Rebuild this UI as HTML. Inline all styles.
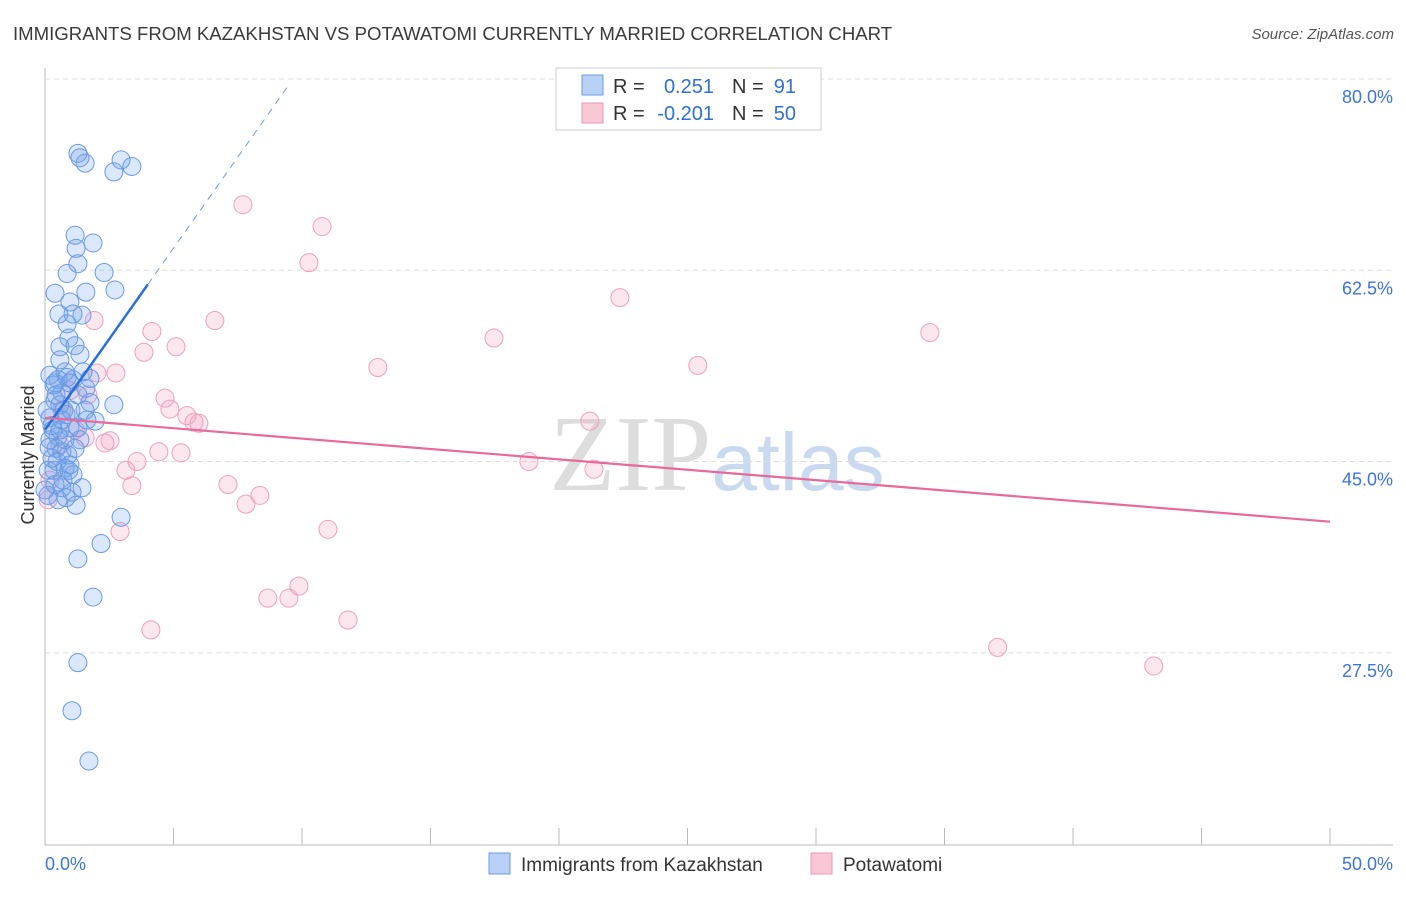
<!DOCTYPE html>
<html><head><meta charset="utf-8"><style>
body{margin:0;background:#fff;font-family:"Liberation Sans",sans-serif;}
</style></head><body>
<svg id="c" width="1406" height="892" xmlns="http://www.w3.org/2000/svg" font-family="Liberation Sans, sans-serif">
<text x="13" y="40" font-size="18.6" fill="#3a3a3a">IMMIGRANTS FROM KAZAKHSTAN VS POTAWATOMI CURRENTLY MARRIED CORRELATION CHART</text>
<text x="1394" y="39" font-size="15" fill="#555" font-style="italic" text-anchor="end">Source: ZipAtlas.com</text>
<text x="34" y="455" font-size="18" fill="#333" text-anchor="middle" transform="rotate(-90 34 455)">Currently Married</text>
<text x="717" y="490" font-size="108" fill="#ddd" text-anchor="middle" font-family="Liberation Serif, serif">ZIP<tspan fill="#c9d9f0" font-family="Liberation Sans, sans-serif" font-size="82">atlas</tspan></text>
<g id="grid"></g><g id="marks"></g><g id="lines"></g>
<g>
<rect x="556" y="68" width="265" height="62" fill="#fff" stroke="#ccc"/>
<rect x="582" y="75" width="21" height="20" fill="#b8d0f5" stroke="#6d9be0"/>
<rect x="582" y="103" width="21" height="20" fill="#f9c6d6" stroke="#e89ab4"/>
<text x="613" y="93" font-size="20" fill="#333">R =</text><text x="714" y="93" font-size="20" fill="#2f6fd6" text-anchor="end">0.251</text>
<text x="732" y="93" font-size="20" fill="#333">N =</text><text x="796" y="93" font-size="20" fill="#2f6fd6" text-anchor="end">91</text>
<text x="613" y="120" font-size="20" fill="#333">R =</text><text x="714" y="120" font-size="20" fill="#2f6fd6" text-anchor="end">-0.201</text>
<text x="732" y="120" font-size="20" fill="#333">N =</text><text x="796" y="120" font-size="20" fill="#2f6fd6" text-anchor="end">50</text>
</g>
<g>
<rect x="489" y="853" width="21" height="21" fill="#b8d0f5" stroke="#6d9be0"/>
<text x="521" y="871" font-size="19" fill="#333">Immigrants from Kazakhstan</text>
<rect x="811" y="853" width="21" height="21" fill="#f9c6d6" stroke="#e89ab4"/>
<text x="843" y="871" font-size="19" fill="#333">Potawatomi</text>
</g>
</svg>
<script>
const blueX=[1.28,1.36,1.56,2.96,2.68,3.38,1.17,1.21,1.87,1.28,2.30,0.86,0.39,1.59,2.72,0.97,0.54,1.09,1.44,0.86,0.93,0.58,1.17,1.36,0.78,0.51,1.09,1.75,0.39,0.86,0.97,0.66,1.59,2.68,0.39,0.74,0.19,1.75,1.63,1.95,0.58,0.97,0.19,0.43,0.66,1.36,1.28,0.27,0.97,0.78,0.12,0.39,0.66,1.05,1.44,0.12,2.96,2.18,1.28,1.87,1.28,1.05,1.71,0.58,0.82,0.27,0.51,1.17,0.89,0.35,0.70,1.09,0.19,1.48,0.58,0.43,0.78,0.47,1.01,0.16,1.56,0.66,0.35,1.28,0.0,0.51,0.82,0.31,0.93,1.21,0.08];
const blueY=[73.2,72.8,72.3,72.6,71.5,72.0,65.7,64.5,65.0,63.1,62.3,62.2,60.4,60.5,60.7,59.6,58.5,58.5,58.4,57.6,56.3,55.5,55.6,54.8,53.2,52.5,52.5,52.6,52.2,52.7,52.2,51.3,51.7,50.2,50.6,49.7,49.0,50.4,48.8,48.7,47.9,48.1,47.0,46.2,45.9,47.0,48.1,45.3,44.7,44.4,44.2,42.9,42.6,42.2,42.6,41.9,39.9,37.5,36.1,32.6,26.6,22.2,17.6,50.2,49.3,48.3,47.3,46.2,45.6,44.2,43.3,43.8,52.9,53.2,54.3,51.1,47.0,45.0,49.7,46.3,49.7,48.8,52.0,51.1,42.4,41.5,41.7,47.9,44.2,41.0,49.7];
const pinkX=[7.70,10.78,10.27,22.37,34.43,17.47,1.91,6.61,4.16,3.85,5.10,12.95,25.40,2.76,2.02,4.67,4.86,5.52,5.80,5.99,21.20,0.97,0.66,1.56,2.33,2.53,4.43,5.29,3.58,18.83,3.15,21.36,3.38,7.12,8.36,7.82,2.92,11.01,9.88,9.49,8.67,11.79,4.12,37.07,43.14,0.19,0.12,0.58,1.17,1.67];
const pinkY=[68.5,66.5,63.2,60.0,56.8,56.3,57.9,57.9,56.9,55.0,55.5,53.6,53.8,53.1,53.1,50.8,49.8,49.2,48.6,48.5,48.7,51.5,49.7,47.2,46.7,46.9,45.9,45.8,45.0,45.0,44.2,44.3,42.8,42.9,41.9,41.1,38.6,38.8,33.6,32.5,32.5,30.5,29.6,28.0,26.3,43.3,41.5,46.5,47.9,51.1];
const yTicks=[80,62.5,45,27.5];
const yTickLabels=["80.0%","62.5%","45.0%","27.5%"];
const xTicks=[0,5,10,15,20,25,30,35,40,45,50];
const blueTrend=[[0,47.9],[4.0,61.2],[9.5,79.5]];
const pinkTrend=[[0,49.0],[50,39.5]];
const NS="http://www.w3.org/2000/svg";
const X=v=>45+v/50*1285;
const Y=v=>79+(80-v)*10.93;
function mk(t,a,p){const e=document.createElementNS(NS,t);for(const k in a)e.setAttribute(k,a[k]);p.appendChild(e);return e;}
const grid=document.getElementById('grid');
mk('line',{x1:45,y1:68,x2:45,y2:845,stroke:'#bbb'},grid);
mk('line',{x1:45,y1:845,x2:1393,y2:845,stroke:'#bbb'},grid);
yTicks.forEach((t,i)=>{
 const g=mk('line',{x1:45,y1:Y(t),x2:1393,y2:Y(t),stroke:'#ddd','stroke-dasharray':'5,4'},grid);
 
 
 const l=mk('text',{x:1393,y:Y(t)+24,'font-size':18,fill:'#3b75d9','text-anchor':'end'},grid);
 l.textContent=yTickLabels[i];
 
 
});
xTicks.forEach(t=>{
 const k=mk('line',{x1:X(t),y1:828,x2:X(t),y2:845,stroke:'#bbb'},grid);
 
 
});
let a=mk('text',{x:45,y:870,'font-size':18,fill:'#3b75d9'},grid);a.textContent="0.0%";


a=mk('text',{x:1393,y:870,'font-size':18,fill:'#3b75d9','text-anchor':'end'},grid);a.textContent="50.0%";


const marks=document.getElementById('marks');
pinkX.forEach((x,i)=>{
 const c=mk('circle',{cx:X(x),cy:Y(pinkY[i]),r:9,fill:'rgba(244,160,190,0.25)',stroke:'#eea0bb','stroke-width':1},marks);
 
 
});
blueX.forEach((x,i)=>{
 const c=mk('circle',{cx:X(x),cy:Y(blueY[i]),r:9,fill:'rgba(110,160,235,0.25)',stroke:'#6a9ae0','stroke-width':1},marks);
 
 
});
const lines=document.getElementById('lines');
let l1=mk('line',{x1:X(blueTrend[0][0]),y1:Y(blueTrend[0][1]),x2:X(blueTrend[1][0]),y2:Y(blueTrend[1][1]),stroke:'#2a6fd6','stroke-width':2.5},lines);


let l2=mk('line',{x1:X(blueTrend[1][0]),y1:Y(blueTrend[1][1]),x2:X(blueTrend[2][0]),y2:Y(blueTrend[2][1]),stroke:'#6d9be0','stroke-width':1,'stroke-dasharray':'7,6'},lines);


let l3=mk('line',{x1:X(pinkTrend[0][0]),y1:Y(pinkTrend[0][1]),x2:X(pinkTrend[1][0]),y2:Y(pinkTrend[1][1]),stroke:'#e8699a','stroke-width':2.2},lines);


</script>
</body></html>
